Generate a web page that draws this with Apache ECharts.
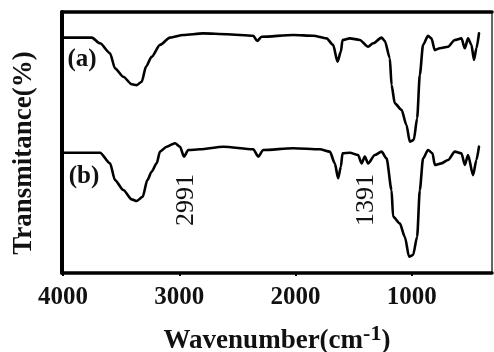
<!DOCTYPE html>
<html>
<head>
<meta charset="utf-8">
<script src="https://cdn.jsdelivr.net/npm/echarts@6/dist/echarts.min.js"></script>
<style>
  html, body { margin: 0; padding: 0; background: #fff; }
  #chart { width: 494px; height: 352px; }
</style>
</head>
<body>
<div id="chart"></div>
<script>
// FTIR spectra, wavenumber (cm-1) vs transmittance (arbitrary %, curves offset)
const tickValues = [1000, 2000, 3000, 4000]

const waveA = [4000, 3753, 3682, 3596, 3553, 3482, 3409, 3366, 3323, 3287, 3238, 3166, 3080, 2966, 2794,
  2593, 2364, 2330, 2292, 2020, 1848, 1733, 1677, 1639, 1610, 1596, 1533, 1447, 1376, 1333, 1260, 1232,
  1189, 1174, 1146, 1088, 1046, 1017, 983, 954, 931, 903, 860, 831, 802, 759, 688, 630, 573, 544, 516,
  487, 465, 444, 422]
const transA = [90.2, 90.2, 88.0, 84.2, 78.4, 75.2, 72.3, 72.0, 73.3, 79.0, 82.8, 87.4, 90.2, 91.2, 91.8,
  91.5, 90.9, 88.9, 90.5, 91.2, 90.9, 89.9, 87.4, 81.0, 84.8, 89.3, 89.9, 89.3, 86.7, 88.0, 90.2, 88.9,
  82.3, 72.0, 65.0, 62.5, 56.7, 50.3, 51.0, 59.3, 75.9, 87.4, 90.9, 89.9, 85.4, 86.1, 86.7, 89.3, 89.9,
  86.1, 89.9, 87.4, 81.6, 86.1, 91.8]

const waveB = [4000, 3682, 3596, 3553, 3482, 3409, 3366, 3315, 3275, 3238, 3195, 3166, 3109, 3037, 2994,
  2960, 2923, 2822, 2622, 2364, 2321, 2278, 2020, 1791, 1705, 1662, 1634, 1610, 1596, 1533, 1462, 1432,
  1404, 1376, 1318, 1260, 1217, 1174, 1161, 1103, 1060, 1023, 989, 954, 931, 903, 860, 822, 802, 745,
  688, 630, 573, 544, 516, 473, 444, 422]
const transB = [46.1, 46.1, 42.0, 35.6, 31.8, 28.2, 27.6, 29.2, 35.6, 38.8, 42.0, 46.5, 48.4, 49.7, 48.4,
  44.6, 47.1, 47.4, 48.4, 47.4, 44.6, 47.1, 47.8, 47.4, 46.5, 42.0, 36.3, 40.7, 45.9, 46.1, 45.2, 42.0,
  44.6, 42.0, 45.2, 46.5, 43.9, 31.8, 21.6, 19.0, 13.9, 6.2, 6.9, 13.9, 31.8, 43.9, 47.1, 45.9, 41.4,
  42.0, 43.3, 46.5, 45.9, 41.4, 45.2, 37.5, 43.3, 48.4]

const seriesNames = ['(a)', '(b)']
const peakLabels = ['2991', '1391']

const pair = (xs, ys) => xs.map((x, i) => [x, ys[i]])

const serif = '"Liberation Serif", "DejaVu Serif", serif'
const ink = '#111'

const chart = echarts.init(document.getElementById('chart'), null, { renderer: 'canvas' })

const hiddenAxis = {
  axisLabel: { show: false },
  axisTick: { show: false },
  splitLine: { show: false }
}

// shared look for both spectra
const spectrum = (name, data) => ({
  name,
  type: 'line',
  data,
  showSymbol: false,
  smooth: 0.25,
  smoothMonotone: 'x',
  lineStyle: { color: '#000', width: 2.6, join: 'round', cap: 'round' },
  z: 3
})

chart.setOption({
  animation: false,
  backgroundColor: '#fff',
  // v6 shrinks the grid to fit axis names unless told not to
  grid: { left: 62, right: 2, top: 12, bottom: 79, outerBoundsMode: 'none', containLabel: false },
  xAxis: [
    {
      type: 'value',
      inverse: true,
      min: 310,
      max: 4009,
      position: 'bottom',
      axisLine: { onZero: false, lineStyle: { color: '#000', width: 3.5 } },
      axisTick: { show: true, customValues: tickValues, length: 3, inside: false, lineStyle: { color: '#000', width: 2 } },
      axisLabel: {
        customValues: tickValues,
        formatter: v => String(v),
        margin: 12,
        color: ink,
        fontFamily: serif,
        fontWeight: 'bold',
        fontSize: 25
      },
      splitLine: { show: false },
      name: 'Wavenumber(cm{sup|-1})',
      nameLocation: 'middle',
      nameGap: 50,
      nameTextStyle: {
        color: ink,
        fontFamily: serif,
        fontWeight: 'bold',
        fontSize: 27,
        rich: {
          sup: { fontFamily: serif, fontWeight: 'bold', fontSize: 22, color: ink, verticalAlign: 'top', padding: [0, 0, 14, 0] }
        }
      }
    },
    {
      type: 'value',
      inverse: true,
      min: 310,
      max: 4009,
      position: 'top',
      axisLine: { onZero: false, lineStyle: { color: '#000', width: 3.5 } },
      ...hiddenAxis
    }
  ],
  yAxis: [
    {
      type: 'value',
      min: 0,
      max: 100,
      position: 'left',
      axisLine: { show: true, onZero: false, lineStyle: { color: '#000', width: 4 } },
      ...hiddenAxis
    },
    {
      type: 'value',
      min: 0,
      max: 100,
      position: 'right',
      axisLine: { show: true, onZero: false, lineStyle: { color: '#333', width: 1.5 } },
      ...hiddenAxis
    }
  ],
  graphic: [
    {
      type: 'text',
      x: 24,
      y: 153,
      rotation: Math.PI / 2,
      style: {
        text: 'Transmitance(%)',
        fill: ink,
        font: 'bold 27px ' + serif,
        align: 'center',
        verticalAlign: 'middle'
      }
    },
    {
      type: 'text',
      x: 82,
      y: 60,
      style: { text: seriesNames[0], fill: ink, font: 'bold 25px ' + serif, align: 'center', verticalAlign: 'middle' }
    },
    {
      type: 'text',
      x: 84,
      y: 177,
      style: { text: seriesNames[1], fill: ink, font: 'bold 25px ' + serif, align: 'center', verticalAlign: 'middle' }
    }
  ],
  series: [
    spectrum(seriesNames[0], pair(waveA, transA)),
    {
      ...spectrum(seriesNames[1], pair(waveB, transB)),
      markPoint: {
        symbol: 'circle',
        symbolSize: 0,
        silent: true,
        label: {
          show: true,
          rotate: 90,
          position: 'inside',
          color: ink,
          fontFamily: serif,
          fontSize: 26,
          formatter: p => p.name
        },
        data: [
          { name: peakLabels[0], coord: [2943, 28] },
          { name: peakLabels[1], coord: [1395, 28] }
        ]
      }
    }
  ]
})
</script>
</body>
</html>
